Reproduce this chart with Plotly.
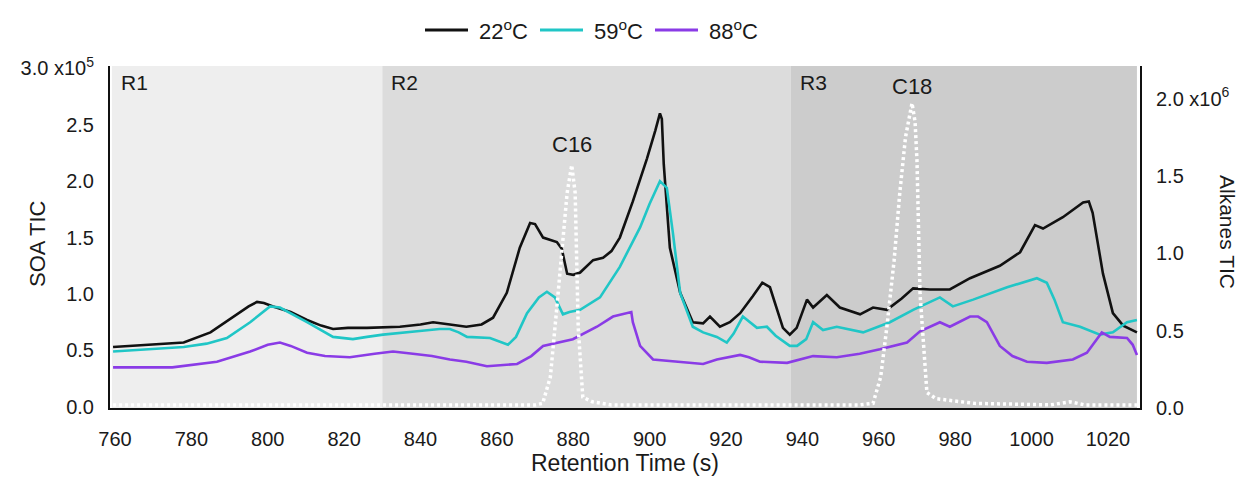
import plotly.graph_objects as go

# ---- data (SOA in units of 1e5, alkanes in units of 1e6) ----
t_22 = [759.5,770,778,785,791,795,797.2,799,801.4,806,810.3,814,817.1,821,826,834.6,840,843.3,847.7,852,856,859,862.6,866,868.7,870,872.1,875.7,877,878.4,880,881.8,885.2,887.8,890,892.2,895.6,899.3,901.5,902.7,903.2,903.7,905.3,908,911.3,914,915.8,918.4,921,923.7,927,929.5,931.5,933,934.9,936.7,938.5,941.2,942.8,946.4,949.8,955.1,958.5,962.1,966,969,973.4,978.6,983.9,991.7,997,1000.9,1003,1008.2,1013.5,1015,1016,1018.7,1021.3,1024,1027.6]
v_22 = [0.53,0.55,0.57,0.66,0.80,0.89,0.93,0.92,0.89,0.84,0.77,0.72,0.69,0.70,0.70,0.71,0.73,0.75,0.73,0.71,0.73,0.79,1.01,1.41,1.63,1.62,1.50,1.46,1.40,1.18,1.17,1.19,1.30,1.32,1.38,1.50,1.82,2.20,2.45,2.60,2.55,2.15,1.41,1.01,0.75,0.74,0.80,0.71,0.75,0.83,0.98,1.10,1.06,0.90,0.70,0.64,0.70,0.95,0.88,0.99,0.88,0.82,0.88,0.86,0.96,1.05,1.04,1.04,1.14,1.25,1.37,1.61,1.58,1.68,1.81,1.82,1.72,1.18,0.83,0.72,0.66]

t_59 = [759.5,770,778,784,789.3,795.4,800.6,803.2,806,810.3,817.1,822.3,826,830.2,839.1,845,847.7,850,852.2,858.2,862.9,865,867.9,871,873.1,875.2,877.3,879,881.8,887,892.2,897.5,900,902.7,904.5,906.1,908,911.3,914,917.6,920.2,922,924.4,926,928.1,930.7,933,936.7,938.6,941,942.8,945.4,949,955.9,962.9,969,976,979.4,984.7,993.6,1001.4,1004,1006,1008.2,1012.7,1017.9,1021.3,1025,1027.6]
v_59 = [0.49,0.51,0.53,0.56,0.61,0.75,0.89,0.88,0.83,0.75,0.62,0.60,0.62,0.64,0.67,0.69,0.69,0.66,0.62,0.61,0.55,0.62,0.83,0.97,1.02,0.97,0.82,0.84,0.86,0.97,1.24,1.59,1.80,2.00,1.94,1.54,1.01,0.71,0.66,0.62,0.57,0.65,0.80,0.76,0.70,0.71,0.63,0.54,0.54,0.60,0.75,0.68,0.71,0.66,0.75,0.86,0.97,0.89,0.95,1.06,1.14,1.10,0.95,0.75,0.71,0.64,0.66,0.75,0.77]

t_88 = [759.5,775,786.7,795.4,800,803.2,806,810.3,815,821.5,828,832.8,838,843,847.7,852,857.4,865.3,869,872.1,879.9,886.2,890.4,894.3,895.2,895.6,897.5,900.9,908,914,917.6,923.7,926,928.9,936,942.8,949,955,960.3,967.4,970.8,976,978.6,983.9,986,988.3,991.7,995,998.8,1004,1010.8,1014.5,1018.4,1020.5,1025,1026.5,1027.6]
v_88 = [0.35,0.35,0.40,0.49,0.55,0.57,0.54,0.48,0.45,0.44,0.47,0.49,0.47,0.45,0.42,0.40,0.36,0.38,0.45,0.54,0.60,0.71,0.80,0.83,0.84,0.75,0.54,0.42,0.40,0.38,0.42,0.46,0.44,0.40,0.39,0.45,0.44,0.47,0.51,0.57,0.67,0.75,0.71,0.80,0.80,0.75,0.54,0.45,0.40,0.39,0.42,0.48,0.66,0.62,0.61,0.55,0.46]

t_alk = [759.5,860,870,872,874,875.7,877,878.4,879.6,880.5,881.3,882.5,885,890,955,958.5,960.5,962.1,964,965.5,967,968.7,969.5,970,970.8,972.6,975,978,985,1005,1010,1014,1027.6]
v_alk = [0.02,0.02,0.02,0.03,0.2,0.65,1.0,1.39,1.57,1.39,0.52,0.07,0.04,0.02,0.02,0.03,0.2,0.52,0.95,1.39,1.75,1.97,1.85,1.60,0.74,0.10,0.06,0.05,0.03,0.02,0.04,0.02,0.02]

series_names = ["22<sup>o</sup>C", "59<sup>o</sup>C", "88<sup>o</sup>C"]
series_colors = ["#111111", "#20c6c6", "#8a3be6"]

regions = [("R1", 759.2, 830), ("R2", 830, 937), ("R3", 937, 1027.6)]
region_colors = ["#eeeeee", "#dcdcdc", "#cccccc"]

x_ticks = list(range(760, 1021, 20))
left_tickvals = [0, 0.5, 1.0, 1.5, 2.0, 2.5, 3.0]
left_ticktext = ["0.0", "0.5", "1.0", "1.5", "2.0", "2.5", "3.0 x10<sup>5</sup>"]
right_tickvals = [0, 0.5, 1.0, 1.5, 2.0]
right_ticktext = ["0.0", "0.5", "1.0", "1.5", "2.0 x10<sup>6</sup>"]

FONT = "Liberation Sans, Arial, sans-serif"
TXT = "#1a1a1a"

# layout geometry (pixels)
L, R, T, B, W, H = 110, 104, 66, 74, 1244, 482
PW, PH = W - L - R, H - T - B
def px(x):
    return (x - L) / PW
def py(y):
    return (H - B - y) / PH

fig = go.Figure()

for (lab, x0, x1), c in zip(regions, region_colors):
    fig.add_shape(type="rect", xref="x", yref="paper", x0=x0, x1=x1, y0=0, y1=1,
                  fillcolor=c, line_width=0, layer="below")
    fig.add_annotation(x=x0, y=1, xref="x", yref="paper", text=lab, showarrow=False,
                       xanchor="left", yanchor="top", xshift=7, yshift=-3,
                       font=dict(size=21, color=TXT, family=FONT))

for t, v, n, c in zip([t_22, t_59, t_88], [v_22, v_59, v_88], series_names, series_colors):
    fig.add_trace(go.Scatter(x=t, y=v, mode="lines", name=n, showlegend=False,
                             line=dict(color=c, width=2.6)))

# alkanes drawn on top (white dotted)
fig.add_trace(go.Scatter(x=t_alk, y=v_alk, yaxis="y2", mode="lines",
                         line=dict(color="white", width=3.5, dash="3px,3px"),
                         showlegend=False, hoverinfo="skip"))

# custom legend (line samples + labels)
legend_x = [425, 540, 655]
for lx, n, c in zip(legend_x, series_names, series_colors):
    fig.add_shape(type="line", xref="paper", yref="paper", x0=px(lx), x1=px(lx + 43),
                  y0=py(30), y1=py(30), line=dict(color=c, width=3))
    fig.add_annotation(x=px(lx + 52), y=py(30), xref="paper", yref="paper", text=n,
                       showarrow=False, xanchor="left", yanchor="middle",
                       font=dict(size=22, color=TXT, family=FONT))

fig.add_annotation(x=879.6, y=1.57, xref="x", yref="y2", text="C16", showarrow=False,
                   yanchor="bottom", yshift=6, font=dict(size=22, color=TXT, family=FONT))
fig.add_annotation(x=968.7, y=1.97, xref="x", yref="y2", text="C18", showarrow=False,
                   yanchor="bottom", yshift=2, font=dict(size=22, color=TXT, family=FONT))

fig.add_annotation(x=px(37), y=py(244), xref="paper", yref="paper", text="SOA TIC", textangle=-90,
                   showarrow=False, xanchor="center", yanchor="middle",
                   font=dict(size=22, color=TXT, family=FONT))
fig.add_annotation(x=px(1228), y=py(232), xref="paper", yref="paper", text="Alkanes TIC", textangle=90,
                   showarrow=False, xanchor="center", yanchor="middle",
                   font=dict(size=21, color=TXT, family=FONT))
fig.add_annotation(x=px(625), y=py(463), xref="paper", yref="paper", text="Retention Time (s)",
                   showarrow=False, xanchor="center", yanchor="middle",
                   font=dict(size=23, color=TXT, family=FONT))

fig.update_layout(
    width=W, height=H,
    margin=dict(l=L, r=R, t=T, b=B),
    paper_bgcolor="white", plot_bgcolor="white",
    font=dict(family=FONT, size=20, color=TXT),
    showlegend=False,
    xaxis=dict(range=[758.7, 1028.4], tickvals=x_ticks, showgrid=False, zeroline=False,
               showline=True, linecolor="#111", linewidth=2, ticks="", ticklabelstandoff=12,
               tickfont=dict(size=20)),
    yaxis=dict(range=[-0.01, 3.02], tickvals=left_tickvals, ticktext=left_ticktext,
               showgrid=False, zeroline=False, showline=True, linecolor="#111", linewidth=2,
               ticks="", ticklabelstandoff=10, tickfont=dict(size=20)),
    yaxis2=dict(range=[0, 2.21], overlaying="y", side="right", tickvals=right_tickvals,
                ticktext=right_ticktext, showgrid=False, zeroline=False, showline=True,
                linecolor="#111", linewidth=2, ticks="", ticklabelstandoff=10,
                tickfont=dict(size=20)),
)

fig.write_html("out.html")
